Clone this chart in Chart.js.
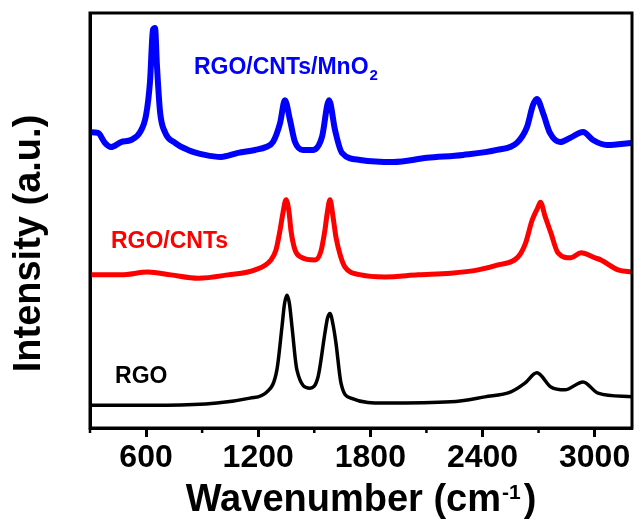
<!DOCTYPE html>
<html lang="en">
<head>
<meta charset="UTF-8">
<title>Raman spectra - RGO, RGO/CNTs, RGO/CNTs/MnO2</title>
<script src="https://cdn.jsdelivr.net/npm/chart.js"></script>
<style>
  html, body { margin: 0; padding: 0; background: #fff; }
</style>
</head>
<body>
<canvas id="raman" width="638" height="520"></canvas>
<script>
// Values: wavenumber (cm-1) and stacked intensity (a.u.)
const blueWn = [300, 343, 380, 412, 466, 519, 568, 600, 621, 637, 648, 658, 675, 701, 755, 824, 915, 1001, 1092, 1183, 1242, 1279, 1317, 1343, 1370, 1397, 1440, 1493, 1541, 1579, 1611, 1648, 1745, 1921, 2103, 2296, 2477, 2584, 2638, 2670, 2691, 2724, 2761, 2815, 2868, 2938, 2991, 3066, 3200];
const blueI = [71.3, 71.1, 68.7, 67.7, 68.9, 69.4, 71.3, 75.4, 83.4, 96.0, 96.4, 87.5, 76.1, 71.3, 68.7, 67.0, 65.8, 65.3, 66.3, 67.0, 67.7, 68.9, 73.5, 79.0, 74.2, 68.9, 67.0, 67.0, 70.1, 79.0, 71.8, 66.3, 64.6, 64.1, 65.1, 65.8, 67.0, 68.7, 72.5, 77.8, 79.3, 75.9, 71.1, 68.9, 69.9, 71.3, 69.4, 68.2, 68.7];

const redWn = [300, 466, 610, 733, 878, 1038, 1183, 1268, 1295, 1317, 1333, 1349, 1365, 1375, 1397, 1429, 1504, 1535, 1557, 1570, 1584, 1600, 1616, 1640, 1664, 1750, 1878, 2055, 2231, 2376, 2483, 2590, 2630, 2665, 2695, 2710, 2735, 2766, 2804, 2873, 2927, 3002, 3034, 3125, 3200];
const redI = [36.9, 36.9, 37.6, 36.9, 36.1, 36.9, 38.1, 40.5, 42.9, 47.7, 52.0, 55.0, 52.0, 47.7, 42.9, 41.2, 40.5, 42.5, 47.7, 52.0, 55.0, 51.0, 46.0, 41.5, 38.8, 36.9, 36.4, 36.9, 37.3, 38.1, 39.3, 41.2, 44.5, 50.0, 53.0, 54.4, 51.0, 47.0, 42.2, 41.0, 42.2, 41.0, 40.5, 38.1, 37.6];

const blackWn = [300, 712, 979, 1156, 1247, 1300, 1327, 1341, 1354, 1367, 1381, 1407, 1477, 1520, 1557, 1571, 1584, 1600, 1616, 1643, 1696, 1878, 2231, 2413, 2552, 2627, 2691, 2766, 2841, 2938, 3018, 3200];
const blackI = [5.5, 5.5, 6.0, 7.2, 8.7, 14.0, 24.3, 30.0, 32.0, 30.0, 24.3, 14.0, 9.6, 12.3, 22.9, 26.5, 27.6, 25.0, 20.5, 10.8, 7.2, 6.0, 6.3, 7.5, 8.7, 10.8, 13.3, 9.9, 9.2, 11.1, 8.4, 7.5];

// x ticks every 300, labelled every 600
const xMin = 300;
const xMax = 3200;
const tickStep = 300;
const labelStep = 600;

// sample names written inside the plot
const sampleNames = ['RGO/CNTs/MnO', 'RGO/CNTs', 'RGO'];
const sampleSubs = ['2', '', ''];
const sampleColors = ['#0000ff', '#ff0000', '#000000'];
const nameWn = [856, 412, 434];
const nameI = [85.3, 43.4, 10.8];

const FONT = '"Liberation Sans", Arial, Helvetica, sans-serif';

const toPoints = (xs, ys) => xs.map((x, i) => ({ x, y: ys[i] }));

// frame, short minor ticks, sample names and both axis titles
const decorations = {
  id: 'decorations',
  afterDraw(chart) {
    const { ctx, chartArea: a, scales } = chart;
    const x = scales.x, y = scales.y;
    ctx.save();

    ctx.strokeStyle = '#000';
    ctx.lineWidth = 3;
    ctx.strokeRect(a.left, a.top, a.right - a.left, a.bottom - a.top);

    ctx.lineWidth = 2.5;
    for (let v = xMin; v <= xMax; v += tickStep) {
      if (v % labelStep === 0) continue;
      const px = x.getPixelForValue(v);
      ctx.beginPath();
      ctx.moveTo(px, a.bottom);
      ctx.lineTo(px, a.bottom + 5);
      ctx.stroke();
    }

    ctx.textBaseline = 'alphabetic';
    ctx.textAlign = 'left';
    sampleNames.forEach((name, i) => {
      const px = x.getPixelForValue(nameWn[i]);
      const py = y.getPixelForValue(nameI[i]);
      ctx.fillStyle = sampleColors[i];
      ctx.font = `bold 23px ${FONT}`;
      ctx.fillText(name, px, py);
      if (sampleSubs[i]) {
        const w = ctx.measureText(name).width;
        ctx.font = `bold 15px ${FONT}`;
        ctx.fillText(sampleSubs[i], px + w + 1, py + 6);
      }
    });

    // "Wavenumber (cm-1)"
    const mainText = 'Wavenumber (cm';
    const supText = '-1';
    const endText = ')';
    ctx.fillStyle = '#000';
    ctx.font = `bold 38px ${FONT}`;
    const wMain = ctx.measureText(mainText).width;
    const wEnd = ctx.measureText(endText).width;
    ctx.font = `bold 21px ${FONT}`;
    const wSup = ctx.measureText(supText).width;
    const total = wMain + wSup + 4 + wEnd;
    let tx = (a.left + a.right) / 2 - total / 2;
    const base = a.bottom + 83;
    ctx.font = `bold 38px ${FONT}`;
    ctx.fillText(mainText, tx, base);
    tx += wMain + 1;
    ctx.font = `bold 21px ${FONT}`;
    ctx.fillText(supText, tx, base - 12);
    tx += wSup + 3;
    ctx.font = `bold 38px ${FONT}`;
    ctx.fillText(endText, tx, base);

    // "Intensity (a.u.)" sits a little below the middle of the axis
    ctx.translate(30, (a.top + a.bottom) / 2 + 23);
    ctx.rotate(-Math.PI / 2);
    ctx.textAlign = 'center';
    ctx.textBaseline = 'middle';
    ctx.font = `bold 38px ${FONT}`;
    ctx.fillText('Intensity (a.u.)', 0, 0);

    ctx.restore();
  }
};

new Chart(document.getElementById('raman'), {
  type: 'line',
  data: {
    datasets: [
      {
        label: 'RGO',
        data: toPoints(blackWn, blackI),
        borderColor: '#000000',
        borderWidth: 3.5
      },
      {
        label: 'RGO/CNTs',
        data: toPoints(redWn, redI),
        borderColor: '#ff0000',
        borderWidth: 5
      },
      {
        label: 'RGO/CNTs/MnO2',
        data: toPoints(blueWn, blueI),
        borderColor: '#0000ff',
        borderWidth: 6
      }
    ]
  },
  options: {
    responsive: false,
    animation: false,
    devicePixelRatio: 1,
    layout: { padding: { top: 13, right: 6, left: 0, bottom: 0 } },
    elements: {
      point: { radius: 0 },
      line: { cubicInterpolationMode: 'monotone', fill: false }
    },
    plugins: {
      legend: { display: false },
      tooltip: { enabled: false }
    },
    scales: {
      x: {
        type: 'linear',
        min: xMin,
        max: xMax,
        afterFit: (s) => { s.height = 92; },
        border: { display: true, color: '#000', width: 3 },
        grid: {
          drawOnChartArea: false,
          drawTicks: true,
          tickLength: 9,
          tickWidth: 3,
          tickColor: (c) => (c.tick && c.tick.value % labelStep === 0 ? '#000' : 'rgba(0,0,0,0)')
        },
        ticks: {
          stepSize: tickStep,
          includeBounds: false,
          autoSkip: false,
          maxRotation: 0,
          padding: 2,
          color: '#000',
          font: { family: FONT, size: 32, weight: 'bold' },
          callback: (v) => (v % labelStep === 0 ? String(v) : '')
        }
      },
      y: {
        min: 0,
        max: 100,
        afterFit: (s) => { s.width = 90; },
        border: { display: true, color: '#000', width: 3 },
        grid: { display: false },
        ticks: { display: false },
        title: { display: false }
      }
    }
  },
  plugins: [decorations]
});
</script>
</body>
</html>
